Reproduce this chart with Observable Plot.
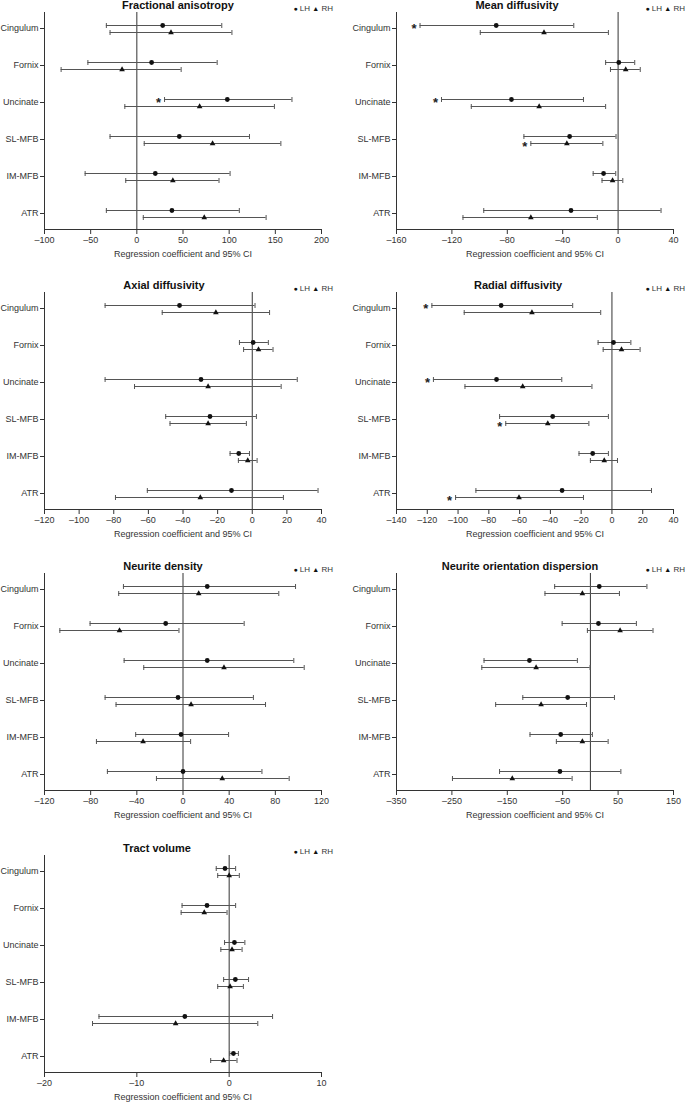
<!DOCTYPE html>
<html>
<head>
<meta charset="utf-8">
<script src="https://cdn.jsdelivr.net/npm/d3@7"></script>
<script src="https://cdn.jsdelivr.net/npm/@observablehq/plot@0.6"></script>
<style>
  html, body { margin: 0; padding: 0; background: #fff; }
  body { width: 685px; height: 1102px; overflow: hidden; position: relative;
         font-family: "Liberation Sans", Arial, sans-serif; color: #222; }
  .panel { position: absolute; }
  .panel svg { display: block; overflow: visible; }
  .title { position: absolute; width: 300px; text-align: center; font-weight: bold;
           font-size: 11px; line-height: 12px; color: #111; white-space: nowrap; }
  .legend { position: absolute; width: 80px; text-align: right; font-size: 8px;
            line-height: 9px; color: #333; white-space: nowrap; }
  .legend .g { font-size: 7px; color: #111; }
</style>
</head>
<body>
<script>
// ---------- data ----------
const tracts = ["Cingulum", "Fornix", "Uncinate", "SL-MFB", "IM-MFB", "ATR"];
const hemispheres = ["LH", "RH"];
const measureTitles = ["Fractional anisotropy", "Mean diffusivity", "Axial diffusivity",
  "Radial diffusivity", "Neurite density", "Neurite orientation dispersion", "Tract volume"];
const axisLabel = "Regression coefficient and 95% CI";

// [lower CI, estimate, upper CI] per tract
const faTicks = [-100, -50, 0, 50, 100, 150, 200];
const faLH = [[-33, 28, 92], [-53, 16, 87], [30, 98, 168], [-29, 46, 122], [-56, 20, 101], [-33, 38, 111]];
const faRH = [[-29, 37, 103], [-82, -16, 48], [-13, 68, 149], [8, 82, 156], [-12, 39, 89], [7, 73, 140]];
const faStars = [["Uncinate", "LH"]];

const mdTicks = [-160, -120, -80, -40, 0, 40];
const mdLH = [[-143, -88, -32], [-9, 0.5, 12], [-127.5, -77, -25], [-68, -35, -1.5], [-18, -10.5, -1.7], [-97, -34, 31]];
const mdRH = [[-99.5, -53.5, -7], [-5.5, 5.5, 16], [-106, -57, -9], [-63, -37, -11], [-11.6, -4, 3.4], [-112, -63, -15]];
const mdStars = [["Cingulum", "LH"], ["Uncinate", "LH"], ["SL-MFB", "RH"]];

const adTicks = [-120, -100, -80, -60, -40, -20, 0, 20, 40];
const adLH = [[-85, -42, 1.6], [-7.4, 0.5, 9.3], [-85, -29.6, 26], [-50, -24.4, 2.4], [-12.8, -7.8, -1.6], [-60.6, -12, 38]];
const adRH = [[-52, -21, 10], [-5, 3.6, 12], [-68, -25.5, 16.7], [-47.5, -25.5, -3.4], [-8, -2.6, 2.8], [-79, -30, 18]];
const adStars = [];

const rdTicks = [-140, -120, -100, -80, -60, -40, -20, 0, 20, 40];
const rdLH = [[-117, -72, -25.5], [-9, 1, 12.3], [-116, -75, -32.6], [-73, -38.5, -2.3], [-21.4, -12.5, -2.3], [-88.4, -32.4, 25.7]];
const rdRH = [[-96, -52, -7.3], [-5.7, 6.2, 18.3], [-95.5, -58, -13], [-69, -41.7, -15], [-14, -5, 3.6], [-101.6, -60.4, -18.5]];
const rdStars = [["Cingulum", "LH"], ["Uncinate", "LH"], ["SL-MFB", "RH"], ["ATR", "RH"]];

const ndTicks = [-120, -80, -40, 0, 40, 80, 120];
const ndLH = [[-51.6, 21, 97.5], [-80.5, -15, 53], [-51, 21, 96], [-67.5, -4.3, 61], [-41, -1.7, 39.5], [-65.5, 0, 68.4]];
const ndRH = [[-55.7, 13.6, 83], [-106.7, -55, -3.5], [-34, 35.5, 105], [-58, 7, 71.5], [-75, -34.6, 6.6], [-23, 34, 92]];
const ndStars = [];

const nodTicks = [-350, -250, -150, -50, 50, 150];
const nodLH = [[-64.5, 16, 102], [-51, 14.5, 83], [-192, -110, -23.5], [-122, -41, 43.4], [-109, -53.6, 3.6], [-164, -55, 55]];
const nodRH = [[-82, -14.5, 52.4], [-5.4, 53.6, 113], [-196, -98, -0.6], [-171, -89, -7], [-61.4, -14.5, 32], [-249, -141, -33]];
const nodStars = [];

const tvTicks = [-20, -10, 0, 10];
const tvLH = [[-1.4, -0.45, 0.7], [-5.1, -2.4, 0.7], [-0.5, 0.57, 1.7], [-0.6, 0.67, 2.1], [-14.1, -4.8, 4.7], [0.06, 0.46, 1.0]];
const tvRH = [[-1.24, 0, 1.1], [-5.2, -2.7, -0.23], [-0.9, 0.31, 1.4], [-1.24, 0.1, 1.54], [-14.8, -5.8, 3.1], [-2.0, -0.6, 0.85]];
const tvStars = [];

const panels = [
  {title: measureTitles[0], ticks: faTicks, LH: faLH, RH: faRH, stars: faStars},
  {title: measureTitles[1], ticks: mdTicks, LH: mdLH, RH: mdRH, stars: mdStars},
  {title: measureTitles[2], ticks: adTicks, LH: adLH, RH: adRH, stars: adStars},
  {title: measureTitles[3], ticks: rdTicks, LH: rdLH, RH: rdRH, stars: rdStars},
  {title: measureTitles[4], ticks: ndTicks, LH: ndLH, RH: ndRH, stars: ndStars},
  {title: measureTitles[5], ticks: nodTicks, LH: nodLH, RH: nodRH, stars: nodStars},
  {title: measureTitles[6], ticks: tvTicks, LH: tvLH, RH: tvRH, stars: tvStars}
];

// ---------- layout ----------
const panelTops = [0, 0, 280, 280, 561, 561, 843];
const titleCenters = [178, 175, 164, 176, 163, 178, 157];
const PANEL_H = 259;
const barColor = "#555";
const axisColor = "#333";
const hemiOffset = {LH: -3, RH: 4};
const fmt = d => d < 0 ? "\u2013" + Math.abs(d) : String(d);

// vertical end-cap symbol for the CI whiskers (half-height = r)
const capSymbol = {
  draw(context, size) {
    const h = Math.sqrt(size / Math.PI);
    context.moveTo(0, -h);
    context.lineTo(0, h);
  }
};

function toRows(arr, hemi) {
  return arr.map(([lo, est, hi], i) => ({tract: tracts[i], hemi, lo, est, hi}));
}

panels.forEach((p, k) => {
  const col = k % 2;
  const left = col ? 342 : 0;
  const top = panelTops[k];
  const width = col ? 343 : 342;
  const mL = col ? 54 : 44;
  const mR = col ? 12 : 21;

  const rows = [...toRows(p.LH, "LH"), ...toRows(p.RH, "RH")];
  const starRows = p.stars.map(([t, h]) => rows.find(r => r.tract === t && r.hemi === h));

  const hemiMarks = h => {
    const data = rows.filter(r => r.hemi === h);
    const dy = hemiOffset[h];
    return [
      Plot.ruleY(data, {y: "tract", x1: "lo", x2: "hi", dy, stroke: barColor, strokeWidth: 1}),
      Plot.dot(data, {x: "lo", y: "tract", dy, symbol: capSymbol, r: 2.5, fill: "none", stroke: barColor, strokeWidth: 1}),
      Plot.dot(data, {x: "hi", y: "tract", dy, symbol: capSymbol, r: 2.5, fill: "none", stroke: barColor, strokeWidth: 1}),
      Plot.dot(data, {x: "est", y: "tract", dy, symbol: h === "LH" ? "circle" : "triangle",
        r: h === "LH" ? 2.4 : 2.1, fill: "#111", stroke: "none"}),
      Plot.text(starRows.filter(r => r.hemi === h), {x: "lo", y: "tract", dy: dy + 3, dx: -6,
        text: () => "*", fontSize: 13, fontWeight: "bold", fill: "#222"})
    ];
  };

  const chart = Plot.plot({
    width, height: PANEL_H,
    marginLeft: mL, marginRight: mR, marginTop: 12, marginBottom: 30,
    style: {fontFamily: "'Liberation Sans', Arial, sans-serif", fontSize: "9px", color: axisColor, background: "transparent"},
    x: {domain: [p.ticks[0], p.ticks[p.ticks.length - 1]], ticks: p.ticks, tickFormat: fmt,
        tickSize: 5, tickPadding: 2, label: axisLabel, labelAnchor: "center", labelOffset: 27, labelArrow: false},
    y: {type: "point", domain: tracts, padding: 0.4, tickSize: 4, tickPadding: 2, label: null},
    marks: [
      Plot.frame({anchor: "left", stroke: axisColor}),
      Plot.frame({anchor: "bottom", stroke: axisColor}),
      Plot.ruleX([0], {stroke: axisColor, strokeWidth: 1}),
      ...hemiMarks("LH"),
      ...hemiMarks("RH")
    ]
  });

  const div = document.createElement("div");
  div.className = "panel";
  div.style.left = left + "px";
  div.style.top = top + "px";
  div.appendChild(chart);
  document.body.appendChild(div);

  const t = document.createElement("div");
  t.className = "title";
  t.textContent = p.title;
  t.style.left = (left + titleCenters[k] - 150) + "px";
  t.style.top = (top - 1) + "px";
  document.body.appendChild(t);

  const lg = document.createElement("div");
  lg.className = "legend";
  const rightEdge = left + width - mR + 12;
  lg.style.left = (rightEdge - 80) + "px";
  lg.style.top = (top + 4) + "px";
  lg.innerHTML = '<span class="g">\u25CF</span> ' + hemispheres[0] + ' <span class="g">\u25B2</span> ' + hemispheres[1];
  document.body.appendChild(lg);
});
</script>
</body>
</html>
